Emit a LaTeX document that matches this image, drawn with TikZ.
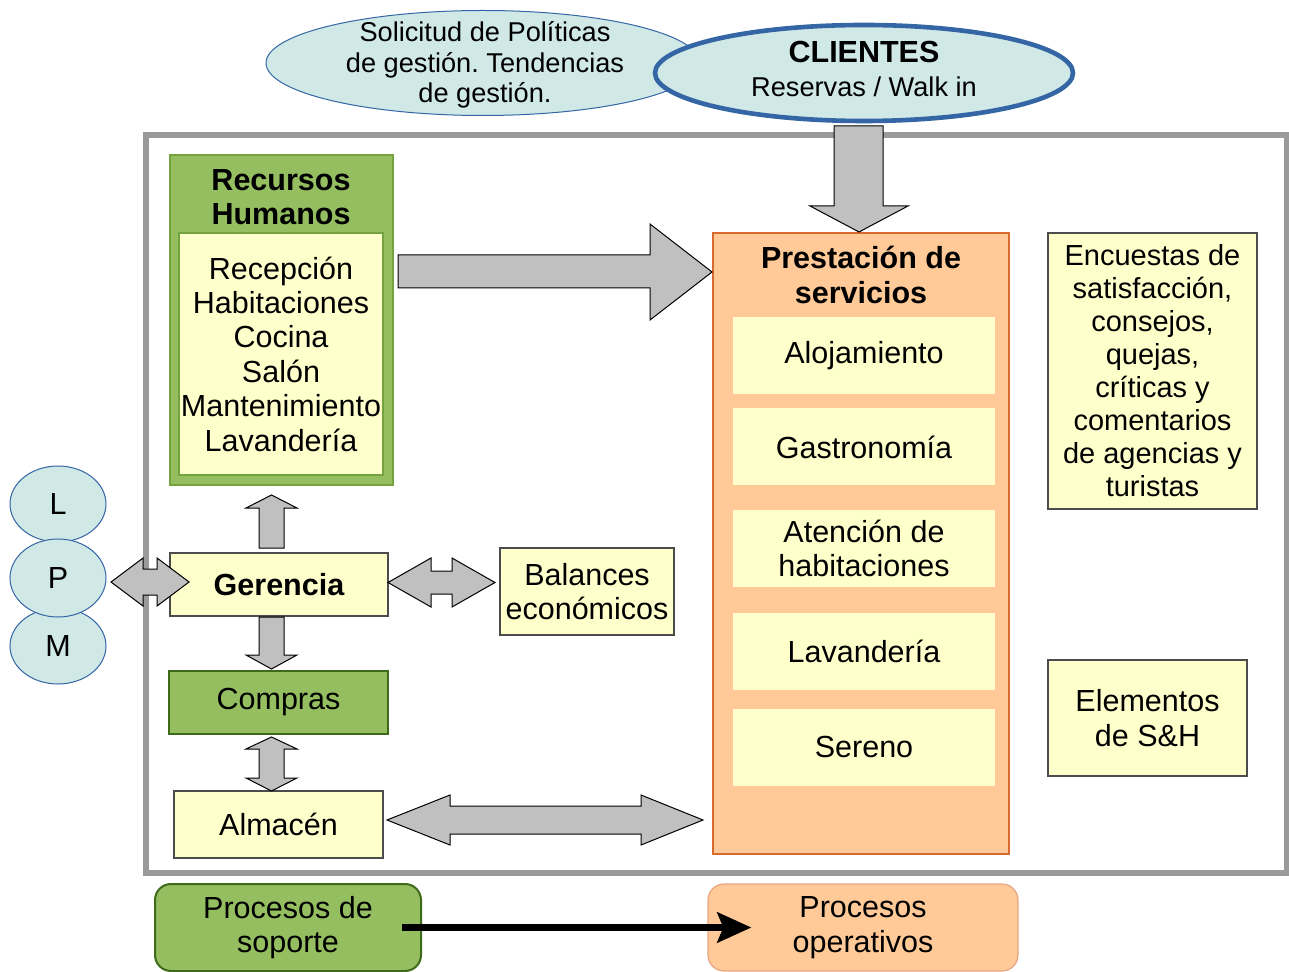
\documentclass[tikz,border=0pt]{standalone}
\usepackage{fontspec}
\setmainfont{Liberation Sans}
\usepackage{xcolor}
\usetikzlibrary{arrows.meta, shapes.geometric}
\frenchspacing

\definecolor{framegray}{HTML}{9A9A9A}
\definecolor{cyanfill}{HTML}{D0E8E6}
\definecolor{ovalblue}{HTML}{3465A4}
\definecolor{rhgreen}{HTML}{94BE5F}
\definecolor{rhborder}{HTML}{74A23E}
\definecolor{darkgreen}{HTML}{3E6B19}
\definecolor{paleyellow}{HTML}{FFFFCC}
\definecolor{peach}{HTML}{FFCA98}
\definecolor{peachborder}{HTML}{D9692F}
\definecolor{arrowgray}{HTML}{C0C0C0}

\newcommand{\mainfs}{\fontsize{15.25}{17.2}\selectfont}
\newcommand{\ovalfs}{\fontsize{13.6}{15.3}\selectfont}
\newcommand{\notefs}{\fontsize{14.5}{16.5}\selectfont}

\begin{document}
\begin{tikzpicture}[x=0.5pt, y=-0.5pt, font=\mainfs, >=Stealth,
    box/.style={draw=black!70, fill=paleyellow, line width=0.6pt, inner sep=0pt, align=center},
    greenbox/.style={draw=darkgreen, fill=rhgreen, line width=1pt, inner sep=0pt, align=center},
    servbox/.style={fill=paleyellow, inner sep=0pt, minimum width=131pt, minimum height=38.5pt, align=center},
    oval/.style={ellipse, draw=ovalblue, fill=cyanfill, inner sep=0pt, line width=0.5pt},
    fatarrow/.style={draw=black, fill=arrowgray, line width=0.5pt, line join=miter}]
  \useasboundingbox (0,0) rectangle (1289,972);
  % outer frame
  \draw[framegray, line width=3pt] (146,135) rectangle (1287,873);
  % top ovals
  \node[oval, minimum width=217pt, minimum height=52.5pt] (sol) at (483,63) {};
  \node[align=center, font=\ovalfs] (soltxt) at (485,65) {Solicitud de Políticas\\de gestión. Tendencias\\de gestión.};
  \node[oval, line width=2.3pt, minimum width=209pt, minimum height=48pt] (cli) at (864,73) {};
  \node[align=center] (clitxt) at (864,69) {\textbf{CLIENTES}\\{\ovalfs Reservas / Walk in}};
  % recursos humanos
  \node[greenbox, draw=rhborder, minimum width=111.5pt, minimum height=165pt] (rh) at (281.5,320) {};
  \node[font=\mainfs\bfseries, align=center] (rhtit) at (281,197) {Recursos\\Humanos};
  \node[box, draw=rhborder, minimum width=102pt, minimum height=121pt] (rhlist) at (281,354)
    {Recepción\\Habitaciones\\Cocina\\Salón\\Mantenimiento\\Lavandería};
  % prestacion de servicios
  \node[draw=peachborder, fill=peach, line width=1.2pt, minimum width=148pt, minimum height=310.5pt] (prest) at (861,543.5) {};
  \node[font=\mainfs\bfseries, align=center] (presttit) at (861,275) {Prestación de\\servicios};
  \node[servbox] (aloj) at (864,356) {Alojamiento};
  \node[servbox] (gast) at (864,447) {Gastronomía};
  \node[servbox] (aten) at (864,548.5) {Atención de\\habitaciones};
  \node[servbox] (lava) at (864,651) {Lavandería};
  \node[servbox] (sere) at (864,747) {Sereno};
  % notes on the right
  \node[box, font=\notefs, minimum width=104.5pt, minimum height=138pt] (enc) at (1152.5,371)
    {Encuestas de\\satisfacción,\\consejos,\\quejas,\\críticas y\\comentarios\\de agencias y\\turistas};
  \node[box, minimum width=99.5pt, minimum height=58pt] (sh) at (1147.5,718) {Elementos\\de S\&H};
  % left column
  \node[box, font=\mainfs\bfseries, minimum width=109pt, minimum height=31.5pt] (ger) at (279,584.5) {Gerencia};
  \node[box, minimum width=87pt, minimum height=43.5pt] (bal) at (587,591.5) {Balances\\económicos};
  \node[greenbox, minimum width=109.5pt, minimum height=31.5pt] (comp) at (278.5,702.5) {Compras};
  \node[box, minimum width=104.5pt, minimum height=33.5pt] (alm) at (278.5,824.5) {Almacén};
  % L P M
  \node[oval, minimum width=48pt, minimum height=38pt] (l) at (58,504) {L};
  \node[oval, minimum width=48pt, minimum height=38pt] (m) at (58,646) {M};
  \node[oval, minimum width=48pt, minimum height=39pt] (p) at (58,578) {P};
  % block arrows
  \draw[fatarrow] (398,255) -- (650,255) -- (650,224) -- (712,272) -- (650,320) -- (650,288) -- (398,288) -- cycle;
  \draw[fatarrow] (834,126) -- (883,126) -- (883,206) -- (908,206) -- (859,232) -- (810,206) -- (834,206) -- cycle;
  \draw[fatarrow] (259,548) -- (259,508) -- (246,508) -- (271.5,495) -- (297,508) -- (284,508) -- (284,548) -- cycle;
  \draw[fatarrow] (259,617) -- (284,617) -- (284,655) -- (297,655) -- (271.5,669) -- (246,655) -- (259,655) -- cycle;
  \draw[fatarrow] (271.5,737) -- (297,749) -- (284,749) -- (284,778) -- (297,778) -- (271.5,791)
    -- (246,778) -- (259,778) -- (259,749) -- (246,749) -- cycle;
  \draw[fatarrow] (388,582.5) -- (431,558) -- (431,571) -- (452,571) -- (452,558) -- (495,582.5)
    -- (452,607) -- (452,594) -- (431,594) -- (431,607) -- cycle;
  \draw[fatarrow] (111,582) -- (143,558) -- (143,569) -- (157,569) -- (157,558) -- (189,582)
    -- (157,606) -- (157,595) -- (143,595) -- (143,606) -- cycle;
  \draw[fatarrow] (387,820) -- (450,795) -- (450,806) -- (641,806) -- (641,795) -- (703,820)
    -- (641,845) -- (641,834) -- (450,834) -- (450,845) -- cycle;
  % legend
  \node[greenbox, rounded corners=8pt, minimum width=133pt, minimum height=43.5pt] (sop) at (288,927.5) {Procesos de\\soporte};
  \node[draw=peachborder!60, fill=peach, line width=0.6pt, rounded corners=8pt, inner sep=0pt, align=center,
    minimum width=155pt, minimum height=43.5pt] (oper) at (863,927.5) {Procesos\\operativos};
  \draw[-{Stealth[length=17pt, width=15pt, inset=3pt]}, line width=3.5pt] ([xshift=-10pt]sop.east) -- ([xshift=22pt]oper.west);
\end{tikzpicture}
\end{document}
